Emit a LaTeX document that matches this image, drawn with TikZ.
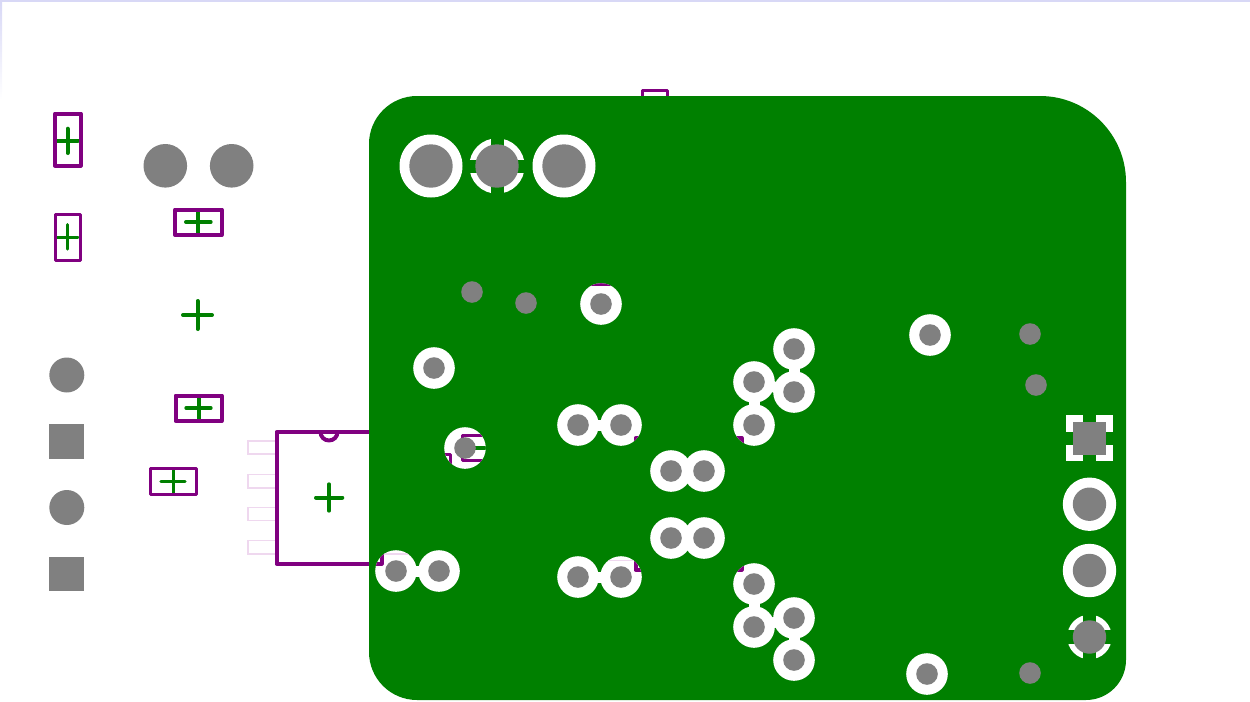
\documentclass[tikz,border=0pt]{standalone}
\definecolor{boardgreen}{HTML}{008000}
\definecolor{silkpurple}{HTML}{800080}
\definecolor{holegrey}{HTML}{808080}
\definecolor{edgeblue}{HTML}{D8D8F6}
\definecolor{pinpink}{HTML}{EFD8EF}
\tikzset{
	silkthick/.style = {draw=silkpurple, line width=2pt, line join=round},
	silkthin/.style = {draw=silkpurple, line width=1.5pt, line join=round},
	silkchip/.style = {draw=silkpurple, line width=2pt, line join=round},
	crossthick/.style = {draw=boardgreen, line width=2pt, line cap=round},
	crossthin/.style = {draw=boardgreen, line width=1.5pt, line cap=round},
	pinfaint/.style = {draw=pinpink, line width=.55pt},
	hole/.style = {fill=holegrey},
	clearance/.style = {fill=white},
	trace/.style = {draw=white, line width=5.5pt}
}

\begin{document}
\begin{tikzpicture}[x=.5pt, y=-.5pt]
		\useasboundingbox (0,0) rectangle (1250,702);
		% window edge
		\fill[edgeblue] (0,0) rectangle (1250,2);
		\shade[top color=edgeblue, bottom color=white] (0,2) rectangle (2,100);
		
		% loose parts, left column
		\draw[crossthick] (67.5,128.7) -- (67.5,153);
		\draw[crossthick] (57,140.5) -- (78,140.5);
		\draw[silkthick] (55,113.5) rectangle (80.5,165.5);
		\draw[crossthin] (67.5,224.5) -- (67.5,249.2);
		\draw[crossthin] (57,237) -- (78,237);
		\draw[silkthin] (55,214) rectangle (80,260);
		\fill[hole] (66.8,375) circle (17.5);
		\fill[hole] (49.3,424) rectangle (84.3,458.7);
		\fill[hole] (66.8,507.5) circle (17.5);
		\fill[hole] (49.3,556.7) rectangle (84.3,591.3);
		
		% loose parts, second column
		\fill[hole] (165.3,165.8) circle (21.8);
		\fill[hole] (231.7,165.8) circle (21.8);
		\draw[crossthick] (198.3,210) -- (198.3,234);
		\draw[crossthick] (186,222) -- (210.7,222);
		\draw[silkthick] (175,209.5) rectangle (221.5,235);
		\draw[crossthick] (197.5,301) -- (197.5,329);
		\draw[crossthick] (183,315) -- (212,315);
		\draw[crossthick] (198.5,396) -- (198.5,420);
		\draw[crossthick] (186.3,408) -- (210.7,408);
		\draw[silkthick] (175.5,395.5) rectangle (221.5,421);
		\draw[crossthin] (173,469.5) -- (173,493);
		\draw[crossthin] (160.8,481) -- (185.2,481);
		\draw[silkthin] (150,468.5) rectangle (196,494);
		
		% chip at the board edge
		\draw[pinfaint] (248,441) rectangle (276,454);
		\draw[pinfaint] (248,474.5) rectangle (276,488);
		\draw[pinfaint] (248,507.5) rectangle (276,520.5);
		\draw[pinfaint] (248,540.5) rectangle (276,554);
		\draw[silkchip] (276.5,432) rectangle (381.5,563.5);
		\draw[silkchip] (320.5,432) arc[start angle=180, end angle=0, radius=8.5];
		\draw[crossthick] (329,484.3) -- (329,510.7);
		\draw[crossthick] (316,497.5) -- (342.3,497.5);
		
		% stub behind the top edge
		\draw[silkthin] (642,90) rectangle (667,110);
		
		% board
		\fill[boardgreen] (417,96) -- (1040,96) arc[start angle=-90, end angle=0, radius=86]
			-- (1126,660) arc[start angle=0, end angle=90, radius=40]
			-- (417,700) arc[start angle=90, end angle=180, radius=48]
			-- (369,144) arc[start angle=180, end angle=270, radius=48];
		
		% traces between vias
		\draw[trace] (396,571) -- (439,571);
		\draw[trace] (578,425) -- (621,425);
		\draw[trace] (578,577) -- (621,577);
		\draw[trace] (754,382) -- (794,392);
		\draw[trace] (794,349) -- (794,392);
		\draw[trace] (754,382) -- (754,425);
		\draw[trace] (754,584) -- (754,627);
		\draw[trace] (754,627) -- (794,618);
		\draw[trace] (794,618) -- (794,660);
		
		% clearance round the vias
		\fill[clearance] (431,166) circle (31.5);
		\fill[clearance] (564,166) circle (31.5);
		\fill[clearance] (601,304) circle (20.8);
		\fill[clearance] (434,368) circle (20.8);
		\fill[clearance] (465,448) circle (20.8);
		\fill[clearance] (578,425) circle (20.8);
		\fill[clearance] (621,425) circle (20.8);
		\fill[clearance] (671,471) circle (20.8);
		\fill[clearance] (704,471) circle (20.8);
		\fill[clearance] (671,538) circle (20.8);
		\fill[clearance] (704,538) circle (20.8);
		\fill[clearance] (578,577) circle (20.8);
		\fill[clearance] (621,577) circle (20.8);
		\fill[clearance] (396,571) circle (20.8);
		\fill[clearance] (439,571) circle (20.8);
		\fill[clearance] (754,382) circle (20.8);
		\fill[clearance] (794,349) circle (20.8);
		\fill[clearance] (794,392) circle (20.8);
		\fill[clearance] (754,425) circle (20.8);
		\fill[clearance] (754,584) circle (20.8);
		\fill[clearance] (794,618) circle (20.8);
		\fill[clearance] (754,627) circle (20.8);
		\fill[clearance] (794,660) circle (20.8);
		\fill[clearance] (930,335) circle (20.8);
		\fill[clearance] (927,674) circle (20.8);
		\fill[clearance] (1089.5,504.2) circle (26.7);
		\fill[clearance] (1089.5,570.5) circle (26.7);
		
		% thermal pads
		\fill[clearance] (497,166) circle (27.7);
		\fill[boardgreen] (490.5,136) rectangle (503.5,196);
		\fill[boardgreen] (467,159.5) rectangle (527,172.8);
		\fill[clearance] (1066,414.7) rectangle (1112.7,461);
		\fill[boardgreen] (1082.7,412) rectangle (1096,464);
		\fill[boardgreen] (1063,431.7) rectangle (1115,445);
		\fill[clearance] (1089.5,637) circle (22.3);
		\fill[boardgreen] (1082.7,612) rectangle (1096,662);
		\fill[boardgreen] (1064,630) rectangle (1115,643.5);
		
		% silk showing through the clearance
		\begin{scope}
			\clip (601,304) circle (20.8) (465,448) circle (20.8) (621,425) circle (20.8)
				(621,577) circle (20.8) (754,425) circle (20.8) (754,584) circle (20.8)
				(396,571) circle (20.8);
			\draw[silkthin] (590,284) -- (612,284);
			\draw[silkthin] (462,435.5) rectangle (500,460.5);
			\draw[crossthin, line cap=butt, line width=2pt] (474,448) -- (495,448);
			\draw[silkthin] (435,454) -- (450.5,454) -- (450.5,470);
			\draw[silkchip] (635.5,438) rectangle (741.5,569.5);
			\draw[pinfaint] (607,560.5) -- (635,560.5);
			\draw[pinfaint] (382,554) -- (415,554);
			\draw[silkchip] (276.5,432) rectangle (381.5,563.5);
		\end{scope}
		
		% drill holes
		\fill[hole] (431,166) circle (21.7);
		\fill[hole] (497,166) circle (21.7);
		\fill[hole] (564,166) circle (21.7);
		\fill[hole] (472,292) circle (10.8);
		\fill[hole] (526,303) circle (10.8);
		\fill[hole] (601,304) circle (10.8);
		\fill[hole] (434,368) circle (10.8);
		\fill[hole] (465,448) circle (10.8);
		\fill[hole] (578,425) circle (10.8);
		\fill[hole] (621,425) circle (10.8);
		\fill[hole] (671,471) circle (10.8);
		\fill[hole] (704,471) circle (10.8);
		\fill[hole] (671,538) circle (10.8);
		\fill[hole] (704,538) circle (10.8);
		\fill[hole] (578,577) circle (10.8);
		\fill[hole] (621,577) circle (10.8);
		\fill[hole] (396,571) circle (10.8);
		\fill[hole] (439,571) circle (10.8);
		\fill[hole] (754,382) circle (10.8);
		\fill[hole] (794,349) circle (10.8);
		\fill[hole] (794,392) circle (10.8);
		\fill[hole] (754,425) circle (10.8);
		\fill[hole] (754,584) circle (10.8);
		\fill[hole] (794,618) circle (10.8);
		\fill[hole] (754,627) circle (10.8);
		\fill[hole] (794,660) circle (10.8);
		\fill[hole] (930,335) circle (10.8);
		\fill[hole] (927,674) circle (10.8);
		\fill[hole] (1030,334) circle (10.8);
		\fill[hole] (1036,385) circle (10.8);
		\fill[hole] (1030,673) circle (10.8);
		\fill[hole] (1072.7,421.7) rectangle (1106,455);
		\fill[hole] (1089.5,504.2) circle (16.7);
		\fill[hole] (1089.5,570.5) circle (16.7);
		\fill[hole] (1089.5,637) circle (16.7);
	\end{tikzpicture}
\end{document}
